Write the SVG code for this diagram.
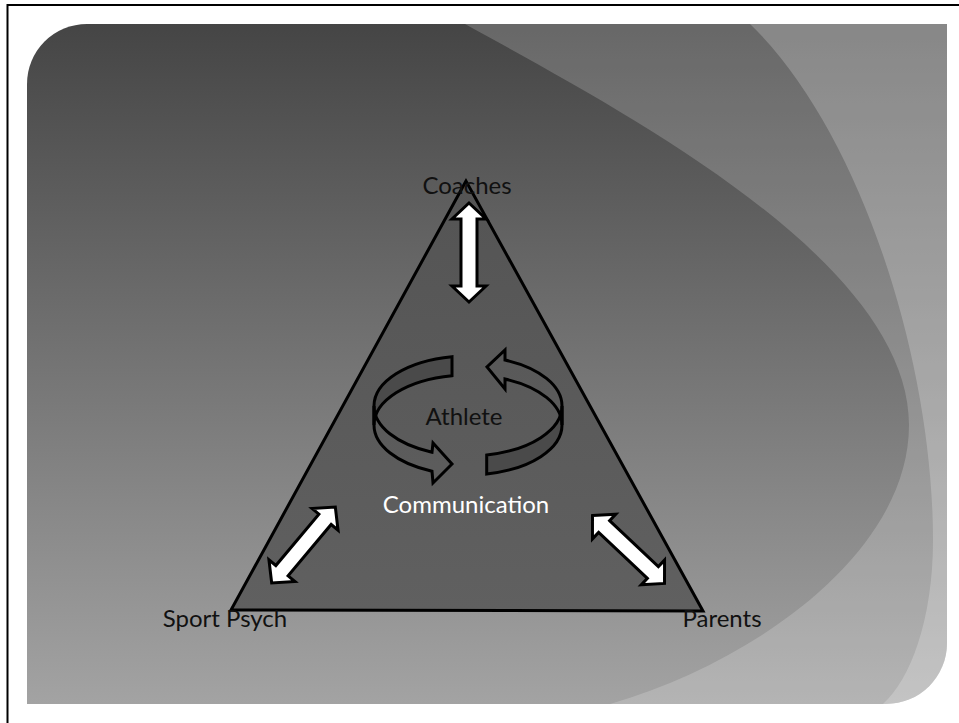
<svg xmlns="http://www.w3.org/2000/svg" xmlns:xlink="http://www.w3.org/1999/xlink" width="959" height="723" viewBox="0 0 959 723">
  <defs>
    <linearGradient id="bg" x1="0" y1="24" x2="0" y2="704" gradientUnits="userSpaceOnUse">
      <stop offset="0" stop-color="#454545"/>
      <stop offset="1" stop-color="#a3a3a3"/>
    </linearGradient>
    <linearGradient id="tri" x1="0" y1="181" x2="0" y2="611" gradientUnits="userSpaceOnUse">
      <stop offset="0" stop-color="#545454"/>
      <stop offset="1" stop-color="#606060"/>
    </linearGradient>
    <clipPath id="slideClip">
      <path d="M87,24 H947 V643 A61,61 0 0 1 886,704 H27 V84 A60,60 0 0 1 87,24 Z"/>
    </clipPath>
    <path id="dblArrow" d="M0,-49.5 L17,-33.5 L8,-33.5 L8,33.5 L17,33.5 L0,49.5 L-17,33.5 L-8,33.5 L-8,-33.5 L-17,-33.5 Z"/>
  </defs>
  <style>
    .lbl { font-family: Lato, "Open Sans", "DejaVu Sans", sans-serif; font-size: 24px; text-anchor: middle; }
    .dark { fill: #111111; }
    .light { fill: #ffffff; }
    .dbl { fill: #ffffff; stroke: #000000; stroke-width: 3; stroke-linejoin: miter; }
    .ring { stroke: #000000; stroke-width: 3; stroke-linejoin: miter; }
    .ringDark { fill: #4a4a4a; }
    .ringLight { fill: none; }
  </style>

  <!-- frame lines -->
  <path d="M7.5,723 V5 H959" fill="none" stroke="#000000" stroke-width="2"/>

  <!-- slide background -->
  <g id="background" clip-path="url(#slideClip)">
    <rect x="0" y="0" width="959" height="723" fill="url(#bg)"/>
    <path d="M465,24 C620,110 909,260 909,425 C909,550 760,660 610,704 L560,780 L1000,780 L1000,-20 L420,-20 Z" fill="#ffffff" fill-opacity="0.19"/>
    <path d="M750,24 C860,130 933,360 933,540 C933,620 910,680 883,704 L883,780 L1000,780 L1000,-20 L735,-20 Z" fill="#ffffff" fill-opacity="0.21"/>
  </g>

  <!-- triangle -->
  <g id="triangle">
    <polygon points="466,181 231,610 703,611" fill="url(#tri)" stroke="#000000" stroke-width="3" stroke-linejoin="miter"/>
  </g>

  <!-- connectors -->
  <g id="connectors">
    <use xlink:href="#dblArrow" class="dbl" transform="translate(469,252.5)"/>
    <use xlink:href="#dblArrow" class="dbl" transform="translate(303.5,545) rotate(40)"/>
    <use xlink:href="#dblArrow" class="dbl" transform="translate(628.5,549.5) rotate(-46.7)"/>
  </g>

  <!-- circular arrows around Athlete -->
  <g id="cycle">
    <path class="ring ringDark" d="M452,356.7 A94,50 0 0 0 374,406 L374,425 A94,50 0 0 1 452,375.7 Z"/>
    <path class="ring ringLight" d="M374,406 A94,50 0 0 0 432,452.2 L433,443 L452,464 L433,483 L432,471.2 A94,50 0 0 1 374,425 Z"/>
    <path class="ring ringDark" d="M486.7,455 A94,50 0 0 0 562,406 L562,425 A94,50 0 0 1 486.7,474 Z"/>
    <path class="ring ringLight" d="M562,406 A94,50 0 0 0 505,360 L505,350 L487,367 L505,389 L505,379 A94,50 0 0 1 562,425 Z"/>
  </g>

  <g id="node-coaches"><text class="lbl dark" x="467" y="194">Coaches</text></g>
  <g id="node-athlete"><text class="lbl dark" x="464" y="425">Athlete</text></g>
  <g id="node-communication"><text class="lbl light" x="466" y="513">Communication</text></g>
  <g id="node-sportpsych"><text class="lbl dark" x="225" y="627">Sport Psych</text></g>
  <g id="node-parents"><text class="lbl dark" x="722" y="627">Parents</text></g>
</svg>
